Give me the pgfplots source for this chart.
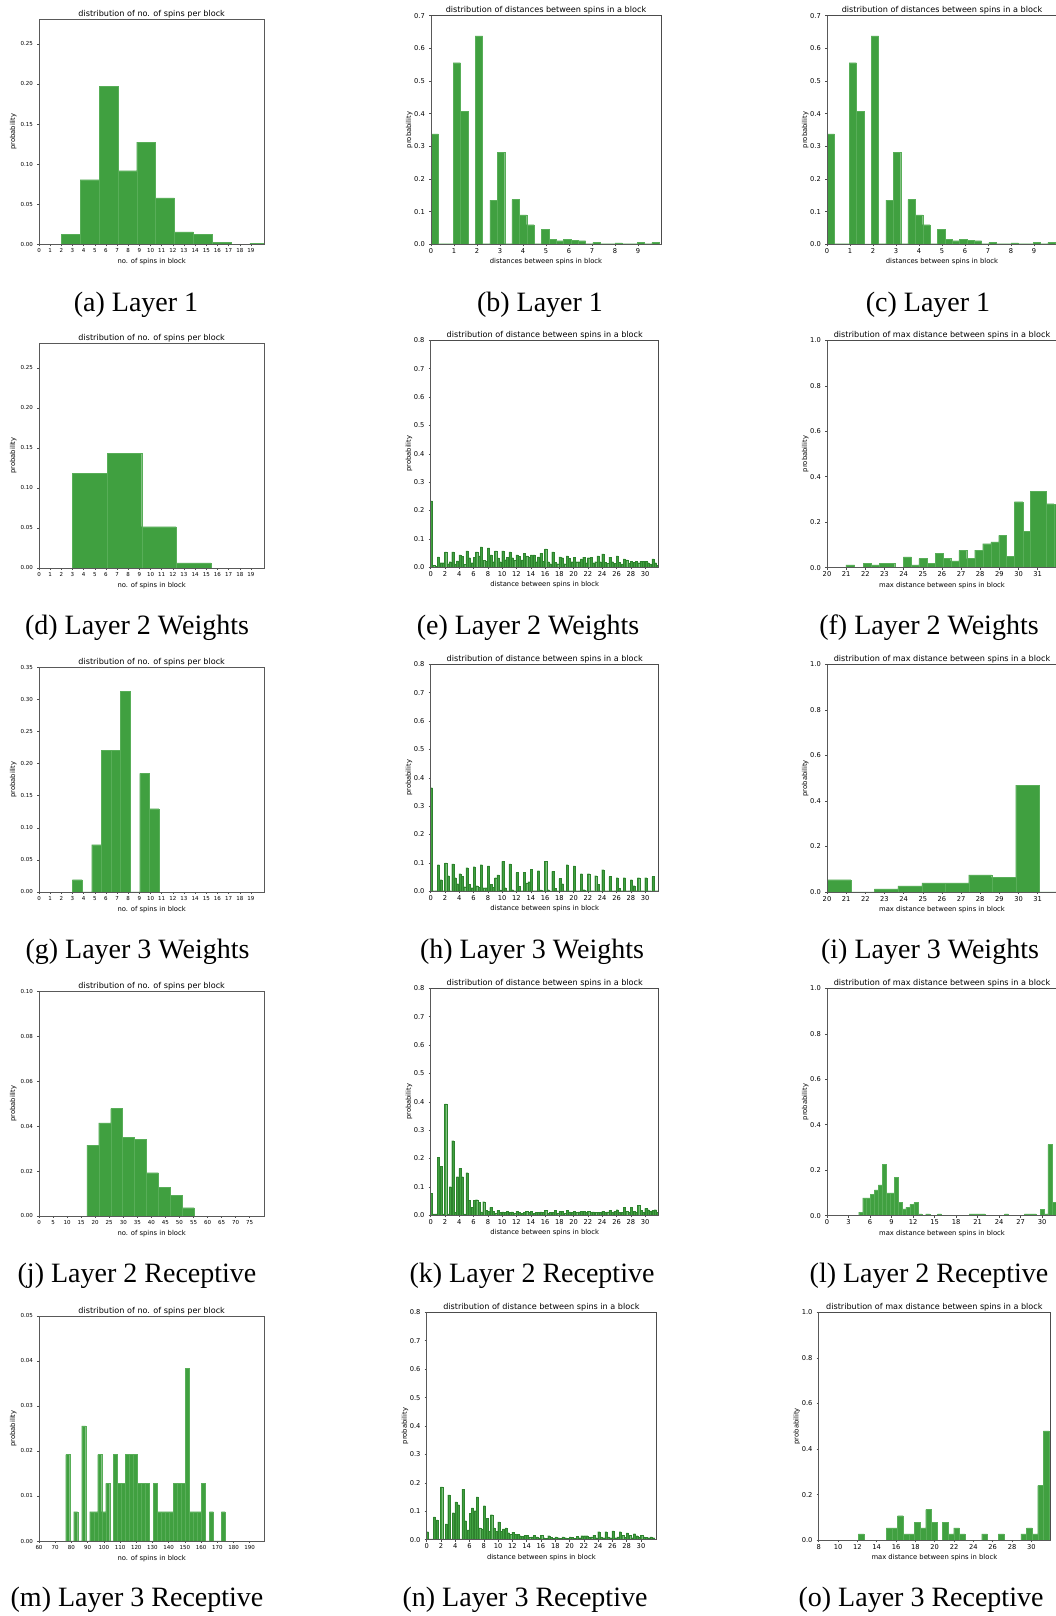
\documentclass[border=0pt]{standalone}
\usepackage{fontspec}
\setmainfont{DejaVu Sans}
\newfontfamily\capfont{Liberation Serif}
\usepackage{pgfplots}
\pgfplotsset{compat=1.18}
\usepackage{pgfplotstable}
\definecolor{barg}{RGB}{64,160,64}
\definecolor{lightedge}{RGB}{88,174,88}
\definecolor{darkedge}{RGB}{45,130,45}
\pgfplotsset{
  base/.style={
    scale only axis, axis on top,
    axis line style={draw=black!65, line width=0.6pt},
    tick align=outside, tick pos=left, major tick length=2pt,
    every tick/.style={draw=black!70, line width=0.5pt},
    /pgf/number format/assume math mode=true,
    scaled ticks=false,
    ymin=0,
    title style={font=\fontsize{8.1}{9}\selectfont, at={(axis description cs:0.5,1)}, anchor=center, yshift=-1pt, inner sep=0pt, text=black},
    xlabel style={font=\fontsize{6.8}{8}\selectfont, at={(axis description cs:0.5,0)}, anchor=center, yshift=-17.5pt, inner sep=0pt, text=black},
    ylabel style={font=\fontsize{6.8}{8}\selectfont, anchor=center, inner sep=0pt, text=black},
    xticklabel style={anchor=north, inner sep=0pt, text=black},
    yticklabel style={anchor=east, inner sep=0pt, text=black},
    xticklabel shift=2pt, yticklabel shift=4pt,
    ylabel={probability},
  },
  c1/.style={base, width=225.3pt,
    ticklabel style={font=\fontsize{5.5}{6}\selectfont},
    ylabel style={at={(axis description cs:-0.114,0.5)}},
    yticklabel style={/pgf/number format/.cd, fixed, fixed zerofill, precision=2},
    title={distribution of no. of spins per block}, xlabel={no. of spins in block}},
  c23/.style={base,
    ticklabel style={font=\fontsize{6.7}{8}\selectfont},
    ylabel style={at={(axis description cs:-0.095,0.5)}},
    yticklabel style={/pgf/number format/.cd, fixed, fixed zerofill, precision=1},
    after end axis/.append code={\draw[black!70, line width=0.9pt] (rel axis cs:0,1) -- (rel axis cs:1,1) -- (rel axis cs:1,0);}},
  c2d/.style={c23, xmin=0, xmax=31.9, ymax=0.8, xtick={0,2,...,30},
    ytick={0,0.1,0.2,0.3,0.4,0.5,0.6,0.7,0.8},
    title={distribution of distance between spins in a block}, xlabel={distance between spins in block}},
  c3/.style={c23, ymax=1, ytick={0,0.2,0.4,0.6,0.8,1.0},
    title={distribution of max distance between spins in a block}, xlabel={max distance between spins in block}},
  hist/.style={ybar interval, fill=barg, draw=lightedge, line width=0.2pt},
  nbar/.style={ybar, bar width=0.3, fill=barg, draw=darkedge, line width=0.15pt},
}
\pgfplotstableread{
n a b c
0 0.234 0.008 0.004
1 0.037 0.016 0.016
2 0.054 0.013 0.02
3 0.054 0.012 0.023
4 0.044 0.038 0.01
5 0.058 0.034 0.016
6 0.036 0.054 0.04
7 0.072 0.024 0.022
8 0.068 0.044 0.02
9 0.058 0.033 0.02
10 0.058 0.027 0.036
11 0.054 0.034 0.024
12 0.044 0.038 0.026
13 0.05 0.04 0.036
14 0.044 0.044 0.02
15 0.037 0.05 0.022
16 0.065 0.02 0.013
17 0.054 0.018 0.013
18 0.037 0.034 0.013
19 0.04 0.032 0.02
20 0.036 0.02 0.02
21 0.03 0.036 0.016
22 0.034 0.036 0.016
23 0.02 0.04 0.02
24 0.047 0.018 0.014
25 0.036 0.02 0.014
26 0.04 0.018 0.012
27 0.03 0.026 0.014
28 0.022 0.018 0.022
29 0.016 0.022 0.022
30 0.022 0.016 0.012
31 0.03 0.016 0.008
}\tabE
\pgfplotstableread{
n a b c
0 0.365 0.002 0.002
1 0.094 0.041 0.002
2 0.1 0.055 0.002
3 0.097 0.048 0.027
4 0.062 0.052 0.016
5 0.083 0.024 0.013
6 0.087 0.02 0.015
7 0.094 0.013 0.013
8 0.09 0.024 0.015
9 0.048 0.058 0.005
10 0.105 0.013 0.002
11 0.097 0.006 0.002
12 0.066 0.017 0.002
13 0.066 0.03 0.034
14 0.077 0.002 0.002
15 0.073 0.005 0.002
16 0.105 0.006 0.002
17 0.07 0.01 0.002
18 0.045 0.027 0.002
19 0.094 0.002 0.002
20 0.09 0.002 0.002
21 0.062 0.006 0.002
22 0.062 0.002 0.002
23 0.055 0.024 0.002
24 0.076 0.002 0.002
25 0.052 0.002 0.002
26 0.048 0.01 0.002
27 0.048 0.002 0.002
28 0.041 0.02 0.002
29 0.048 0.002 0.002
30 0.048 0.002 0.002
31 0.052 0.002 0.002
}\tabH
\pgfplotstableread{
n a b c
0 0.077 0.005 0.005
1 0.204 0.172 0.005
2 0.393 0.005 0.101
3 0.263 0.01 0.136
4 0.165 0.136 0.005
5 0.15 0.052 0.028
6 0.052 0.055 0.045
7 0.012 0.048 0.018
8 0.014 0.028 0.015
9 0.008 0.017 0.01
10 0.012 0.01 0.014
11 0.01 0.012 0.008
12 0.014 0.01 0.008
13 0.01 0.014 0.01
14 0.014 0.008 0.01
15 0.01 0.012 0.01
16 0.017 0.008 0.01
17 0.01 0.017 0.008
18 0.014 0.014 0.008
19 0.017 0.012 0.01
20 0.014 0.01 0.012
21 0.014 0.014 0.01
22 0.014 0.01 0.012
23 0.01 0.01 0.01
24 0.014 0.01 0.012
25 0.017 0.01 0.014
26 0.02 0.01 0.01
27 0.028 0.015 0.01
28 0.028 0.015 0.01
29 0.035 0.018 0.01
30 0.024 0.02 0.015
31 0.018 0.02 0.01
}\tabK
\pgfplotstableread{
n a b c
0 0.028 0.003 0.003
1 0.08 0.07 0.003
2 0.186 0.003 0.056
3 0.158 0.003 0.095
4 0.133 0.123 0.003
5 0.178 0.067 0.035
6 0.092 0.112 0.102
7 0.151 0.042 0.038
8 0.12 0.075 0.03
9 0.088 0.042 0.03
10 0.063 0.03 0.038
11 0.042 0.025 0.02
12 0.027 0.02 0.02
13 0.014 0.012 0.015
14 0.015 0.008 0.01
15 0.015 0.01 0.006
16 0.015 0.007 0.005
17 0.014 0.008 0.005
18 0.01 0.007 0.005
19 0.01 0.007 0.005
20 0.01 0.008 0.005
21 0.012 0.007 0.014
22 0.014 0.014 0.008
23 0.01 0.016 0.007
24 0.028 0.01 0.007
25 0.028 0.01 0.007
26 0.031 0.007 0.01
27 0.028 0.015 0.008
28 0.024 0.015 0.007
29 0.021 0.014 0.008
30 0.015 0.01 0.008
31 0.007 0.01 0.007
}\tabN
\begin{document}
\begin{tikzpicture}[x=1pt,y=1pt]
\path[use as bounding box] (0,0) rectangle (1055pt,1616pt);
% ---------- row 1
\begin{axis}[c1, at={(39pt,1371.7pt)}, anchor=south west, height=225.3pt,
  xmin=0, xmax=20.2, ymax=0.281, xtick={0,...,19}, ytick={0,0.05,0.10,0.15,0.20,0.25}]
\addplot[hist] coordinates {(2,0.0125)(3.69,0.0806)(5.38,0.197)(7.07,0.0918)(8.76,0.1275)(10.45,0.058)(12.14,0.0154)(13.83,0.0125)(15.52,0.0025)(17.21,0)(18.9,0.001)(20.59,0.001)};
\end{axis}
\begin{axis}[c23, at={(431pt,1371.7pt)}, anchor=south west, width=230pt, height=228.6pt,
  xmin=0, xmax=10, ymax=0.7, xtick={0,...,9}, ytick={0,0.1,0.2,0.3,0.4,0.5,0.6,0.7},
  title={distribution of distances between spins in a block}, xlabel={distances between spins in block}]
\addplot[hist] coordinates {(0,0.338)(0.32,0.002)(0.64,0.002)(0.96,0.556)(1.28,0.408)(1.6,0.001)(1.92,0.638)(2.24,0.002)(2.56,0.135)(2.88,0.281)(3.2,0.002)(3.52,0.137)(3.84,0.09)(4.16,0.06)(4.48,0.002)(4.8,0.046)(5.12,0.015)(5.44,0.011)(5.76,0.015)(6.08,0.012)(6.4,0.011)(6.72,0.002)(7.04,0.006)(7.36,0.002)(7.68,0.002)(8.0,0.004)(8.32,0.002)(8.64,0.002)(8.96,0.006)(9.28,0.002)(9.6,0.006)(9.92,0)};
\end{axis}
\begin{axis}[c23, at={(827pt,1371.7pt)}, anchor=south west, width=230pt, height=228.6pt,
  xmin=0, xmax=10, ymax=0.7, xtick={0,...,9}, ytick={0,0.1,0.2,0.3,0.4,0.5,0.6,0.7},
  title={distribution of distances between spins in a block}, xlabel={distances between spins in block}]
\addplot[hist] coordinates {(0,0.338)(0.32,0.002)(0.64,0.002)(0.96,0.556)(1.28,0.408)(1.6,0.001)(1.92,0.638)(2.24,0.002)(2.56,0.135)(2.88,0.281)(3.2,0.002)(3.52,0.137)(3.84,0.09)(4.16,0.06)(4.48,0.002)(4.8,0.046)(5.12,0.015)(5.44,0.011)(5.76,0.015)(6.08,0.012)(6.4,0.011)(6.72,0.002)(7.04,0.006)(7.36,0.002)(7.68,0.002)(8.0,0.004)(8.32,0.002)(8.64,0.002)(8.96,0.006)(9.28,0.002)(9.6,0.006)(9.92,0)};
\end{axis}
% ---------- row 2
\begin{axis}[c1, at={(39pt,1048pt)}, anchor=south west, height=225pt,
  xmin=0, xmax=20.2, ymax=0.281, xtick={0,...,19}, ytick={0,0.05,0.10,0.15,0.20,0.25}]
\addplot[hist] coordinates {(3,0.1186)(6.1,0.143)(9.2,0.0515)(12.3,0.0064)(15.4,0)};
\end{axis}
\begin{axis}[c2d, at={(430.7pt,1048.7pt)}, anchor=south west, width=228pt, height=227pt]
\addplot[nbar] table[x expr=\thisrow{n}+0.08, y=a] {\tabE};
\addplot[nbar] table[x expr=\thisrow{n}+0.41, y=b] {\tabE};
\addplot[nbar] table[x expr=\thisrow{n}+0.74, y=c] {\tabE};
\end{axis}
\begin{axis}[c3, at={(827pt,1048.3pt)}, anchor=south west, width=230pt, height=227.4pt,
  xmin=20, xmax=32.01, xtick={20,...,31}]
\addplot[hist] coordinates {(20.99,0.012)(21.44,0)(21.91,0.0205)(22.31,0.012)(22.72,0.02)(23.53,0)(23.99,0.048)(24.4,0.012)(24.8,0.04)(25.22,0.02)(25.64,0.0645)(26.06,0.04)(26.46,0.03)(26.88,0.076)(27.29,0.04)(27.71,0.077)(28.13,0.1056)(28.55,0.113)(28.96,0.142)(29.36,0.05)(29.78,0.29)(30.23,0.16)(30.62,0.336)(31.44,0.2815)(31.85,0.28)(32.26,0)};
\end{axis}
% ---------- row 3
\begin{axis}[c1, at={(39pt,724pt)}, anchor=south west, height=224.7pt,
  xmin=0, xmax=20.2, ymax=0.35, xtick={0,...,19}, ytick={0,0.05,0.10,0.15,0.20,0.25,0.30,0.35}]
\addplot[hist] coordinates {(3,0.0192)(3.86,0)(4.72,0.0737)(5.58,0.2207)(6.44,0.2207)(7.3,0.3126)(8.16,0)(9.02,0.1848)(9.88,0.1298)(10.74,0)};
\end{axis}
\begin{axis}[c2d, at={(430.7pt,724.7pt)}, anchor=south west, width=228pt, height=227pt]
\addplot[nbar] table[x expr=\thisrow{n}+0.08, y=a] {\tabH};
\addplot[nbar] table[x expr=\thisrow{n}+0.41, y=b] {\tabH};
\addplot[nbar] table[x expr=\thisrow{n}+0.74, y=c] {\tabH};
\end{axis}
\begin{axis}[c3, at={(827pt,724pt)}, anchor=south west, width=230pt, height=227.5pt,
  xmin=20, xmax=32.01, xtick={20,...,31}]
\addplot[hist] coordinates {(20,0.054)(21.24,0)(22.47,0.0136)(23.7,0.027)(24.95,0.04)(26.18,0.04)(27.4,0.0747)(28.6,0.064)(29.85,0.47)(31.1,0)(32.3,0)};
\end{axis}
% ---------- row 4
\begin{axis}[c1, at={(39pt,400pt)}, anchor=south west, height=224.7pt,
  xmin=0, xmax=80.2, ymax=0.1, xtick={0,5,...,75}, ytick={0,0.02,0.04,0.06,0.08,0.10}]
\addplot[hist] coordinates {(17,0.0315)(21.25,0.0414)(25.5,0.0478)(29.75,0.035)(34,0.034)(38.25,0.0193)(42.5,0.0129)(46.75,0.0092)(51,0.0037)(55.25,0)};
\end{axis}
\begin{axis}[c2d, at={(430.7pt,400.7pt)}, anchor=south west, width=228pt, height=227pt]
\addplot[nbar] table[x expr=\thisrow{n}+0.08, y=a] {\tabK};
\addplot[nbar] table[x expr=\thisrow{n}+0.41, y=b] {\tabK};
\addplot[nbar] table[x expr=\thisrow{n}+0.74, y=c] {\tabK};
\end{axis}
\begin{axis}[c3, at={(827pt,400.3pt)}, anchor=south west, width=230pt, height=227.4pt,
  xmin=0, xmax=32.09, xtick={0,3,...,30}]
\addplot[hist] coordinates {(4.42,0.016)(4.97,0.078)(5.52,0.078)(6.07,0.093)(6.62,0.114)(7.17,0.136)(7.72,0.226)(8.27,0.1)(8.82,0.1)(9.37,0.17)(9.92,0.058)(10.47,0.03)(11.02,0.038)(11.57,0.05)(12.12,0.058)(12.67,0.008)(13.22,0)(13.77,0.008)(14.32,0)(14.87,0)(15.42,0.008)(15.97,0)(16.52,0)(17.07,0)(17.62,0)(18.17,0)(18.72,0)(19.27,0)(19.82,0.008)(20.37,0.008)(20.92,0.008)(21.47,0.008)(22.02,0)(22.57,0)(23.12,0)(23.67,0)(24.22,0)(24.77,0.008)(25.32,0)(25.87,0)(26.42,0)(26.97,0)(27.52,0.008)(28.07,0.008)(28.62,0.008)(29.17,0)(29.72,0.029)(30.27,0.008)(30.82,0.313)(31.37,0.058)(31.92,0)};
\end{axis}
% ---------- row 5
\begin{axis}[c1, at={(39pt,75pt)}, anchor=south west, height=225pt,
  xmin=60, xmax=199, ymax=0.05, xtick={60,70,...,190}, ytick={0,0.01,0.02,0.03,0.04,0.05}]
\addplot[hist] coordinates {(76.5,0.0192)(78.96,0)(81.42,0.0065)(83.88,0)(86.34,0.0256)(88.8,0)(91.26,0.0065)(93.72,0.0065)(96.18,0.0192)(98.64,0.0065)(101.1,0.0128)(103.56,0)(106.02,0.0192)(108.48,0.0128)(110.94,0.0128)(113.4,0.0192)(115.86,0.0192)(118.32,0.0192)(120.78,0.0128)(123.24,0.0128)(125.7,0.0128)(128.16,0)(130.62,0.0128)(133.08,0.0065)(135.54,0.0065)(138.0,0.0065)(140.46,0.0065)(142.92,0.0128)(145.38,0.0128)(147.84,0.0128)(150.3,0.0384)(152.76,0.0065)(155.22,0.0065)(157.68,0.0065)(160.14,0.0128)(162.6,0)(165.06,0.0065)(167.52,0)(169.98,0)(172.44,0.0065)(174.9,0)};
\end{axis}
\begin{axis}[c2d, at={(426.7pt,76.3pt)}, anchor=south west, width=229.3pt, height=227.4pt, xmax=32.1]
\addplot[nbar] table[x expr=\thisrow{n}+0.08, y=a] {\tabN};
\addplot[nbar] table[x expr=\thisrow{n}+0.41, y=b] {\tabN};
\addplot[nbar] table[x expr=\thisrow{n}+0.74, y=c] {\tabN};
\end{axis}
\begin{axis}[c3, at={(818.7pt,75.7pt)}, anchor=south west, width=231.3pt, height=228pt,
  xmin=8, xmax=31.93, xtick={8,10,...,30}]
\addplot[hist] coordinates {(12.1,0.028)(12.68,0)(13.26,0)(13.84,0)(14.42,0)(15.0,0.055)(15.58,0.055)(16.16,0.108)(16.74,0.028)(17.32,0.028)(17.9,0.08)(18.48,0.055)(19.06,0.135)(19.64,0.08)(20.22,0)(20.8,0.08)(21.38,0.028)(21.96,0.055)(22.54,0.028)(23.12,0)(23.7,0)(24.28,0)(24.86,0.028)(25.44,0)(26.02,0)(26.6,0.028)(27.18,0)(27.76,0)(28.34,0)(28.92,0.028)(29.5,0.055)(30.08,0.028)(30.66,0.24)(31.24,0.48)(31.82,0)};
\end{axis}
% ---------- captions
\begin{scope}[every node/.style={font=\capfont\fontsize{28}{30}\selectfont, inner sep=0pt, anchor=center}]
\node at (136pt,1311pt) {(a) Layer 1};
\node at (540pt,1311pt) {(b) Layer 1};
\node at (928pt,1311pt) {(c) Layer 1};
\node at (137pt,988pt) {(d) Layer 2 Weights};
\node at (528pt,988pt) {(e) Layer 2 Weights};
\node at (929pt,988pt) {(f) Layer 2 Weights};
\node at (137.5pt,664.5pt) {(g) Layer 3 Weights};
\node at (532pt,664.5pt) {(h) Layer 3 Weights};
\node at (930pt,664.5pt) {(i) Layer 3 Weights};
\node at (137pt,340pt) {(j) Layer 2 Receptive};
\node at (532pt,340pt) {(k) Layer 2 Receptive};
\node at (929pt,340pt) {(l) Layer 2 Receptive};
\node at (137pt,16pt) {(m) Layer 3 Receptive};
\node at (525pt,16pt) {(n) Layer 3 Receptive};
\node at (921pt,16pt) {(o) Layer 3 Receptive};
\end{scope}
\end{tikzpicture}
\end{document}
